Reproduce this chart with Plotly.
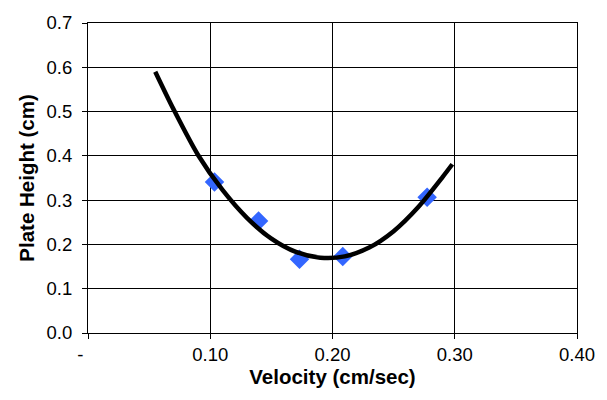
import plotly.graph_objects as go

# Measured data points (diamonds)
velocity = [0.1035, 0.1395, 0.173, 0.2084, 0.2774]
plate_height = [0.341, 0.253, 0.1666, 0.1725, 0.3066]

# Trendline points
trend_x = [0.055, 0.070, 0.090, 0.110, 0.130, 0.150, 0.170, 0.190, 0.210,
           0.230, 0.250, 0.270, 0.290, 0.298]
trend_y = [0.590, 0.505, 0.402, 0.323, 0.260, 0.213, 0.183, 0.170, 0.173,
           0.193, 0.230, 0.284, 0.352, 0.381]

x_tickvals = [0, 0.1, 0.2, 0.3, 0.4]
x_ticktext = ["-\u00a0\u00a0\u00a0", "0.10", "0.20", "0.30", "0.40"]
y_tickvals = [0.0, 0.1, 0.2, 0.3, 0.4, 0.5, 0.6, 0.7]

FONT = "Arial, 'Liberation Sans', sans-serif"

fig = go.Figure()
fig.add_trace(go.Scatter(
    x=velocity, y=plate_height, mode="markers",
    marker=dict(symbol="diamond", size=15, color="#3366FF"),
    showlegend=False, hoverinfo="skip"))
fig.add_trace(go.Scatter(
    x=trend_x, y=trend_y, mode="lines",
    line=dict(color="black", width=4.5, shape="spline", smoothing=0.8),
    showlegend=False, hoverinfo="skip"))

fig.update_layout(
    width=607, height=400,
    margin=dict(l=88, r=29, t=12, b=67),
    paper_bgcolor="white", plot_bgcolor="white",
    font=dict(family=FONT, size=18, color="black"),
)
fig.update_xaxes(
    range=[0, 0.4], tickvals=x_tickvals, ticktext=x_ticktext,
    showgrid=True, gridcolor="black", gridwidth=1,
    showline=True, linecolor="black", linewidth=1, mirror=True,
    ticks="outside", ticklen=5, tickcolor="black",
    tickfont=dict(size=18.5),
    zeroline=False,
    title=dict(text="<b>Velocity (cm/sec)</b>", standoff=0, font=dict(size=20.5)),
)
fig.update_yaxes(
    range=[0, 0.7], tickvals=y_tickvals, tickformat=".1f",
    showgrid=True, gridcolor="black", gridwidth=1,
    showline=True, linecolor="black", linewidth=1, mirror=True,
    ticks="outside", ticklen=5, tickcolor="black",
    tickfont=dict(size=18.5), ticklabelstandoff=6,
    zeroline=False,
    title=dict(text="<b>Plate Height (cm)</b>", standoff=6, font=dict(size=20.5)),
)

fig.write_html("out.html")
